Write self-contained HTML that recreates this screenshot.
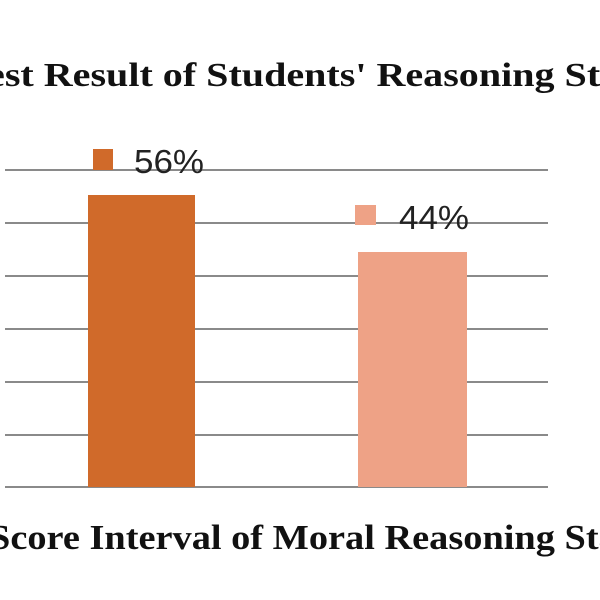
<!DOCTYPE html>
<html><head><style>
body{margin:0;width:600px;height:600px;background:#fff;overflow:hidden;position:relative;font-family:"Liberation Serif",serif}
</style></head><body>
<svg width="600" height="600" style="position:absolute;left:0;top:0">
<g stroke="#8a8a8a" stroke-width="2">
<line x1="5" x2="548" y1="170" y2="170"/>
<line x1="5" x2="548" y1="223" y2="223"/>
<line x1="5" x2="548" y1="276" y2="276"/>
<line x1="5" x2="548" y1="329" y2="329"/>
<line x1="5" x2="548" y1="382" y2="382"/>
<line x1="5" x2="548" y1="435" y2="435"/>
<line x1="5" x2="548" y1="487" y2="487"/>
</g>
<rect x="88" y="195" width="107" height="292" fill="#d06a2a"/>
<rect x="358" y="252" width="109" height="235" fill="#eea286"/>
<rect x="93" y="149" width="20" height="21" fill="#d06a2a"/>
<rect x="355" y="205" width="21" height="20" fill="#eea286"/>
<g font-family="Liberation Sans, sans-serif" font-size="33" fill="#222">
<text x="134" y="173" textLength="70" lengthAdjust="spacingAndGlyphs">56%</text>
<text x="399" y="229" textLength="70" lengthAdjust="spacingAndGlyphs">44%</text>
</g>
<text x="-36" y="86" font-size="34" font-weight="bold" fill="#111" textLength="694" lengthAdjust="spacingAndGlyphs">Test Result of Students' Reasoning Stage</text>
<text x="-11" y="549" font-size="35" fill="#111" font-weight="bold" textLength="665" lengthAdjust="spacingAndGlyphs">Score Interval of Moral Reasoning Stage</text>
</svg>
</body></html>
